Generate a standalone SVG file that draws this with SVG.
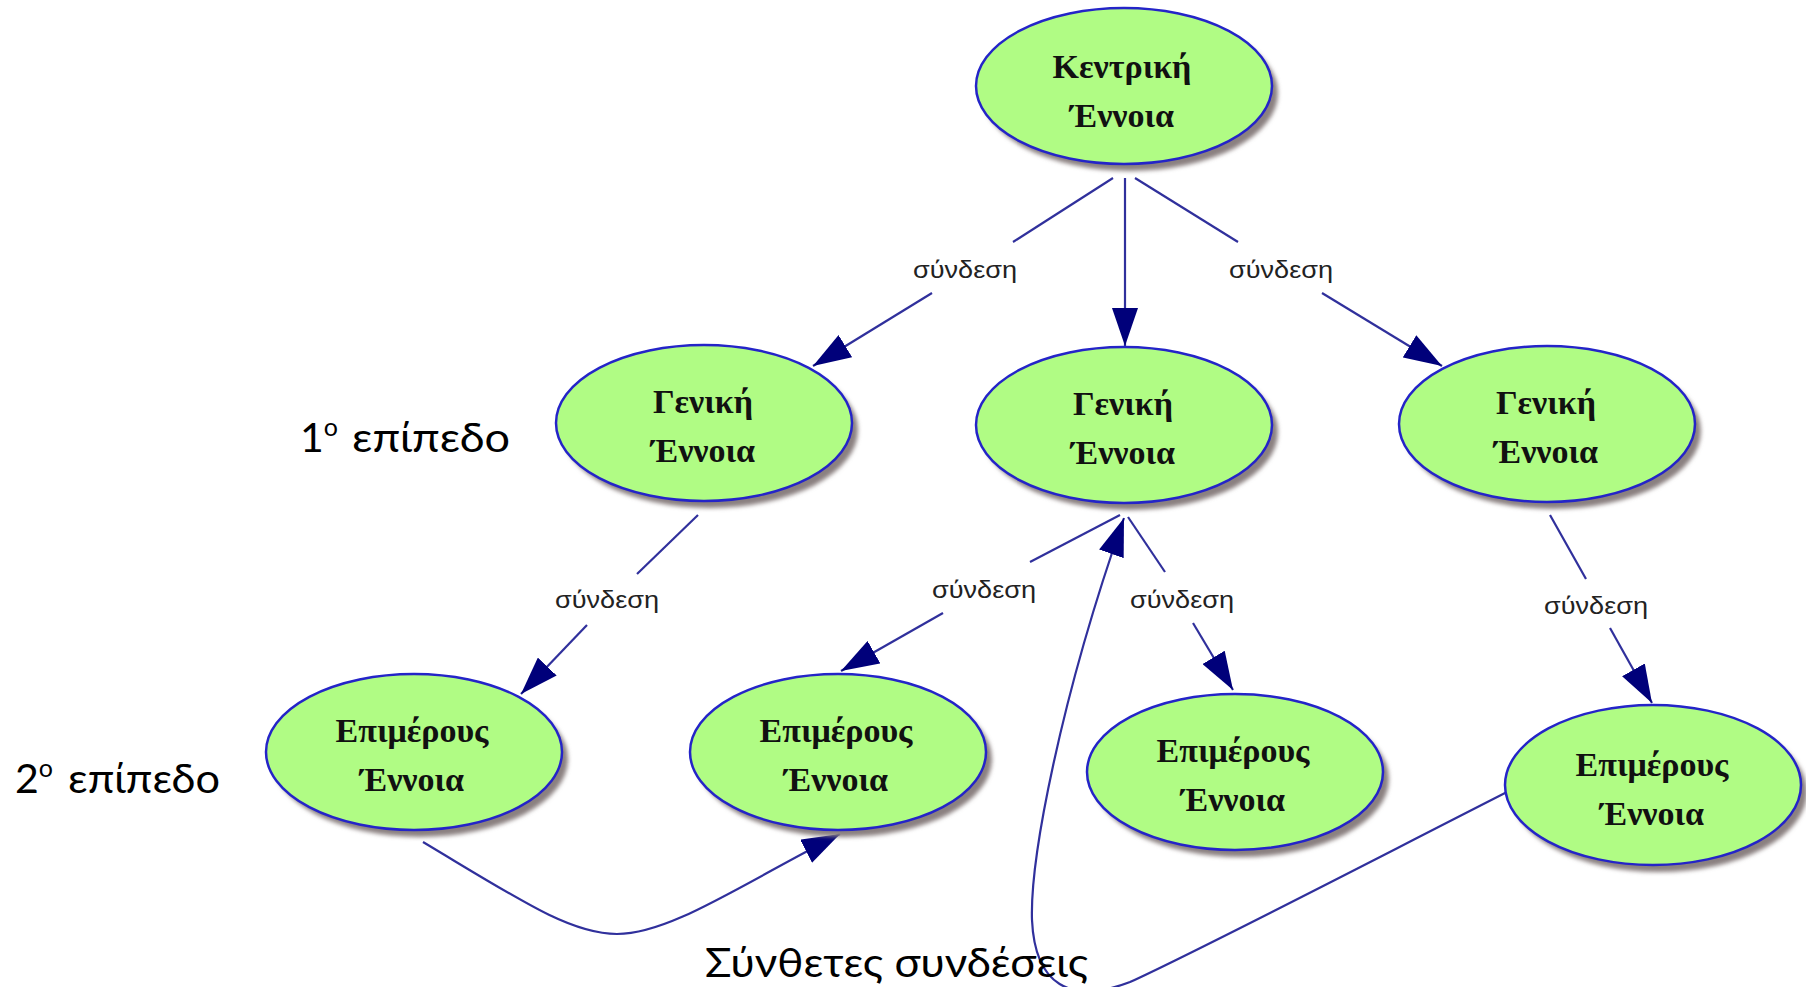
<svg xmlns="http://www.w3.org/2000/svg" width="1806" height="987" viewBox="0 0 1806 987">
<style>
.sh{fill:#8a8080;filter:url(#blur)}
.nd{fill:#b0fc84;stroke:#2424c8;stroke-width:2.5}
.nt{font-family:"Liberation Serif",serif;font-weight:bold;font-size:34px;fill:#111;text-anchor:middle}
.lb{font-family:"Liberation Sans",sans-serif;font-size:24px;fill:#222;text-anchor:middle}
.ed{fill:none;stroke:#30309c;stroke-width:2.2}
.lv{font-family:Lato,"Noto Sans",sans-serif;font-size:41px;fill:#000}
</style>
<defs>
<filter id="blur" x="-10%" y="-10%" width="120%" height="120%"><feGaussianBlur stdDeviation="2"/></filter>
<marker id="ah" markerUnits="userSpaceOnUse" viewBox="0 0 38 26" refX="38" refY="13" markerWidth="38" markerHeight="26" orient="auto"><path d="M0,0 L38,13 L0,26 z" fill="#00007a"/></marker>
</defs>
<g id="connectors">
<line class="ed" x1="1113" y1="178" x2="1013" y2="242"/>
<line class="ed" x1="932" y1="293" x2="813" y2="366" marker-end="url(#ah)"/>
<line class="ed" x1="1125" y1="178" x2="1125" y2="346" marker-end="url(#ah)"/>
<line class="ed" x1="1135" y1="178" x2="1238" y2="242"/>
<line class="ed" x1="1322" y1="293" x2="1442" y2="366" marker-end="url(#ah)"/>
<line class="ed" x1="698" y1="515" x2="637" y2="574"/>
<line class="ed" x1="587" y1="625" x2="521" y2="694" marker-end="url(#ah)"/>
<line class="ed" x1="1120" y1="515" x2="1030" y2="562"/>
<line class="ed" x1="943" y1="613" x2="841" y2="671" marker-end="url(#ah)"/>
<line class="ed" x1="1128" y1="517" x2="1165" y2="572"/>
<line class="ed" x1="1193" y1="623" x2="1233" y2="690" marker-end="url(#ah)"/>
<line class="ed" x1="1550" y1="515" x2="1586" y2="579"/>
<line class="ed" x1="1610" y1="628" x2="1652" y2="703" marker-end="url(#ah)"/>
<path class="ed" d="M423 842 C520 900 570 934 617 934 C670 934 740 885 840 834" marker-end="url(#ah)"/>
<path class="ed" d="M1507 792 C1350 872 1200 950 1130 982 C1070 1005 1035 985 1032 920 C1030 860 1060 700 1124 518" marker-end="url(#ah)"/>
<text class="lb" x="965" y="278" textLength="104" lengthAdjust="spacingAndGlyphs">σύνδεση</text>
<text class="lb" x="1281" y="278" textLength="104" lengthAdjust="spacingAndGlyphs">σύνδεση</text>
<text class="lb" x="607" y="608" textLength="104" lengthAdjust="spacingAndGlyphs">σύνδεση</text>
<text class="lb" x="984" y="598" textLength="104" lengthAdjust="spacingAndGlyphs">σύνδεση</text>
<text class="lb" x="1182" y="608" textLength="104" lengthAdjust="spacingAndGlyphs">σύνδεση</text>
<text class="lb" x="1596" y="614" textLength="104" lengthAdjust="spacingAndGlyphs">σύνδεση</text>
</g>
<g id="n-central">
<ellipse class="sh" cx="1130" cy="93" rx="148" ry="78"/>
<ellipse class="nd" cx="1124" cy="86" rx="148" ry="78"/>
<text class="nt" x="1122" y="78">Κεντρική</text>
<text class="nt" x="1122" y="127">Έννοια</text>
</g>
<g id="n-g1">
<ellipse class="sh" cx="710" cy="430" rx="148" ry="78"/>
<ellipse class="nd" cx="704" cy="423" rx="148" ry="78"/>
<text class="nt" x="703" y="413">Γενική</text>
<text class="nt" x="703" y="462">Έννοια</text>
</g>
<g id="n-g2">
<ellipse class="sh" cx="1130" cy="432" rx="148" ry="78"/>
<ellipse class="nd" cx="1124" cy="425" rx="148" ry="78"/>
<text class="nt" x="1123" y="415">Γενική</text>
<text class="nt" x="1123" y="464">Έννοια</text>
</g>
<g id="n-g3">
<ellipse class="sh" cx="1553" cy="431" rx="148" ry="78"/>
<ellipse class="nd" cx="1547" cy="424" rx="148" ry="78"/>
<text class="nt" x="1546" y="414">Γενική</text>
<text class="nt" x="1546" y="463">Έννοια</text>
</g>
<g id="n-e1">
<ellipse class="sh" cx="420" cy="759" rx="148" ry="78"/>
<ellipse class="nd" cx="414" cy="752" rx="148" ry="78"/>
<text class="nt" x="412" y="742">Επιμέρους</text>
<text class="nt" x="412" y="791">Έννοια</text>
</g>
<g id="n-e2">
<ellipse class="sh" cx="844" cy="759" rx="148" ry="78"/>
<ellipse class="nd" cx="838" cy="752" rx="148" ry="78"/>
<text class="nt" x="836" y="742">Επιμέρους</text>
<text class="nt" x="836" y="791">Έννοια</text>
</g>
<g id="n-e3">
<ellipse class="sh" cx="1241" cy="779" rx="148" ry="78"/>
<ellipse class="nd" cx="1235" cy="772" rx="148" ry="78"/>
<text class="nt" x="1233" y="762">Επιμέρους</text>
<text class="nt" x="1233" y="811">Έννοια</text>
</g>
<g id="n-e4">
<ellipse class="sh" cx="1659" cy="792" rx="148" ry="80"/>
<ellipse class="nd" cx="1653" cy="785" rx="148" ry="80"/>
<text class="nt" x="1652" y="776">Επιμέρους</text>
<text class="nt" x="1652" y="825">Έννοια</text>
</g>
<g id="levels">
<text class="lv" x="300" y="452">1<tspan font-size="25" dy="-16">ο</tspan><tspan dy="16" x="352" textLength="158" lengthAdjust="spacingAndGlyphs">επίπεδο</tspan></text>
<text class="lv" x="15" y="793">2<tspan font-size="25" dy="-16">ο</tspan><tspan dy="16" x="68" textLength="152" lengthAdjust="spacingAndGlyphs">επίπεδο</tspan></text>
<text class="lv" x="705" y="977" textLength="383" lengthAdjust="spacingAndGlyphs">Σύνθετες συνδέσεις</text>
</g>
</svg>
